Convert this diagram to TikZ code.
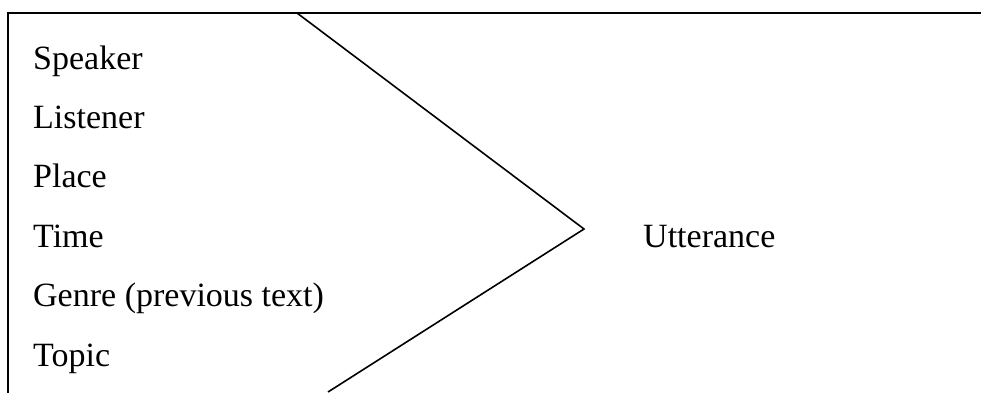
\documentclass[tikz,border=0pt]{standalone}
\usepackage{fontspec}
\setmainfont{Liberation Serif}
\begin{document}
\begin{tikzpicture}[x=1pt,y=-1pt,
  lbl/.style={anchor=base west,inner sep=0pt,font=\fontsize{34}{40}\selectfont},
  frame/.style={line width=2pt,line cap=rect},
  wedge/.style={line width=1.6pt,line join=miter}]
\useasboundingbox (0,0) rectangle (981,392);
\node[lbl] (sp) at (33,69) {Speaker};
\node[lbl] (li) at (33,128) {Listener};
\node[lbl] (pl) at (33,187) {Place};
\node[lbl] (ti) at (33,247) {Time};
\node[lbl] (ge) at (33,306) {Genre (previous text)};
\node[lbl] (to) at (33,366) {Topic};
\node[lbl] (ut) at (643,247) {Utterance};
\coordinate (tl) at (8,13);
\coordinate (tr) at (985,13);
\coordinate (bl) at (8,396);
\coordinate (wt) at (297,13);
\coordinate (wp) at (584,229);
\coordinate (wb) at (328,392);
\draw[frame] (bl) -- (tl) -- (tr);
\draw[wedge] (wt) -- (wp) -- (wb);
\end{tikzpicture}
\end{document}
